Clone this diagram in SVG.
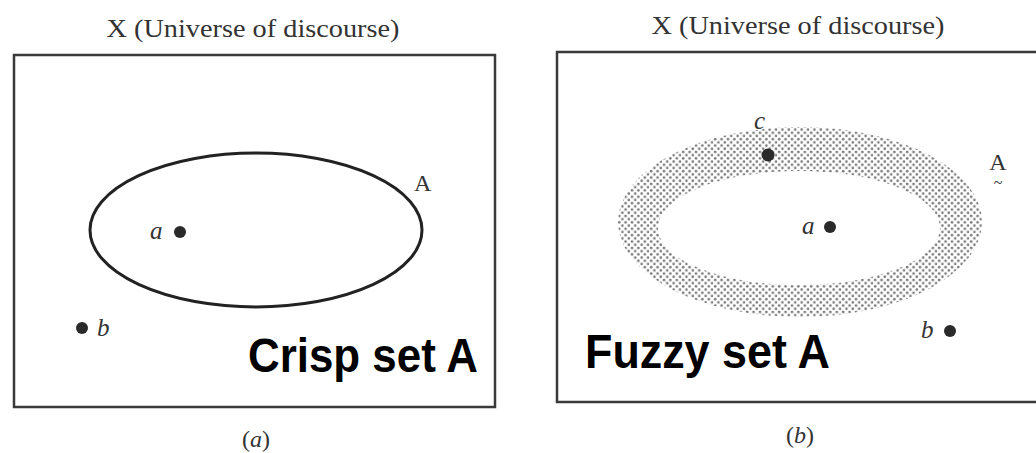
<svg xmlns="http://www.w3.org/2000/svg" width="1036" height="453" viewBox="0 0 1036 453">
<style>
.title{font-family:"Liberation Serif",serif;font-size:26px;fill:#333}
.lbl{font-family:"Liberation Serif",serif;font-size:24px;fill:#333}
.it{font-family:"Liberation Serif",serif;font-style:italic;font-size:25px;fill:#333}
.big{font-family:"Liberation Sans",Arial,sans-serif;font-weight:bold;font-size:48px;fill:#000}
.frame{fill:none;stroke:#3a3a3a;stroke-width:2.5}
.dot{fill:#2a2a2a}
</style>
<defs>
<pattern id="stipple" width="6.4" height="6.4" patternUnits="userSpaceOnUse">
<circle cx="1.6" cy="1.6" r="1.3" fill="#7a7a7a"/>
<circle cx="4.8" cy="4.8" r="1.3" fill="#7a7a7a"/>
</pattern>
</defs>
<rect width="1036" height="453" fill="#fff"/>
<g id="panel-a">
<text class="title" x="253" y="37" text-anchor="middle" textLength="293" lengthAdjust="spacingAndGlyphs">X (Universe of discourse)</text>
<rect class="frame" x="14" y="55" width="481" height="352"/>
</g>
<g id="crisp-set-A">
<ellipse cx="256" cy="230" rx="166" ry="77" fill="none" stroke="#222" stroke-width="3"/>
<text class="lbl" x="414" y="191">A</text>
</g>
<g id="crisp-a">
<circle class="dot" cx="180" cy="232" r="6"/>
<text class="it" x="150" y="239">a</text>
</g>
<g id="crisp-b">
<circle class="dot" cx="82" cy="328" r="6"/>
<text class="it" x="97" y="336">b</text>
</g>
<g id="crisp-title">
<text class="big" x="248" y="372" textLength="230" lengthAdjust="spacingAndGlyphs">Crisp set A</text>
<text class="lbl" x="256" y="447" text-anchor="middle"><tspan>(</tspan><tspan font-style="italic">a</tspan><tspan>)</tspan></text>
</g>
<g id="panel-b">
<text class="title" x="798" y="34" text-anchor="middle" textLength="293" lengthAdjust="spacingAndGlyphs">X (Universe of discourse)</text>
<path class="frame" d="M1036,52 L557,52 L557,402 L1036,402"/>
</g>
<g id="fuzzy-set-A">
<path fill="url(#stipple)" fill-rule="evenodd" d="M618,222 a182,95 0 1,0 364,0 a182,95 0 1,0 -364,0 Z M658,228 a141,57 0 1,0 282,0 a141,57 0 1,0 -282,0 Z"/>
<text class="lbl" x="998" y="170" text-anchor="middle">A<tspan x="998" y="188" font-size="16">~</tspan></text>
</g>
<g id="fuzzy-c">
<circle class="dot" cx="768" cy="155" r="6.5"/>
<text class="it" x="754" y="129">c</text>
</g>
<g id="fuzzy-a">
<circle class="dot" cx="830" cy="227" r="6"/>
<text class="it" x="802" y="234">a</text>
</g>
<g id="fuzzy-b">
<circle class="dot" cx="950" cy="331" r="6"/>
<text class="it" x="921" y="338">b</text>
</g>
<g id="fuzzy-title">
<text class="big" x="585" y="368" textLength="245" lengthAdjust="spacingAndGlyphs">Fuzzy set A</text>
<text class="lbl" x="800" y="443" text-anchor="middle"><tspan>(</tspan><tspan font-style="italic">b</tspan><tspan>)</tspan></text>
</g>
<g id="connectors"/>
</svg>
